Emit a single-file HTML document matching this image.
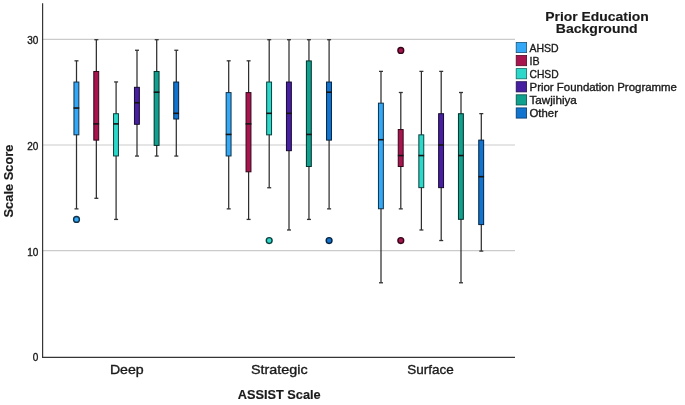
<!DOCTYPE html>
<html><head><meta charset="utf-8"><style>
html,body{margin:0;padding:0;background:#fff;}
body{width:685px;height:405px;overflow:hidden;}
svg{display:block;font-family:"Liberation Sans",sans-serif;will-change:transform;}
</style></head><body>
<svg width="685" height="405" viewBox="0 0 685 405">
<rect width="685" height="405" fill="#fff"/>
<line x1="42.6" y1="250.60" x2="515.0" y2="250.60" stroke="#cbcbcb" stroke-width="1.1"/>
<line x1="42.6" y1="145.00" x2="515.0" y2="145.00" stroke="#cbcbcb" stroke-width="1.1"/>
<line x1="42.6" y1="39.40" x2="515.0" y2="39.40" stroke="#cbcbcb" stroke-width="1.1"/>
<line x1="76.50" y1="60.82" x2="76.50" y2="208.86" stroke="#2e2e2e" stroke-width="1.25"/>
<line x1="74.50" y1="60.82" x2="78.50" y2="60.82" stroke="#333" stroke-width="1.3"/>
<line x1="74.50" y1="208.86" x2="78.50" y2="208.86" stroke="#333" stroke-width="1.3"/>
<rect x="73.95" y="82.04" width="4.90" height="52.80" fill="#33A8F6" stroke="#0f3249" stroke-width="1"/>
<line x1="73.55" y1="108.04" x2="79.25" y2="108.04" stroke="#151515" stroke-width="1.6"/>
<circle cx="76.50" cy="219.42" r="2.9" fill="#33A8F6" stroke="#0f3249" stroke-width="1.4"/>
<line x1="96.35" y1="39.70" x2="96.35" y2="198.30" stroke="#2e2e2e" stroke-width="1.25"/>
<line x1="94.35" y1="39.70" x2="98.35" y2="39.70" stroke="#333" stroke-width="1.3"/>
<line x1="94.35" y1="198.30" x2="98.35" y2="198.30" stroke="#333" stroke-width="1.3"/>
<rect x="93.80" y="71.48" width="4.90" height="68.64" fill="#A8144E" stroke="#320617" stroke-width="1"/>
<line x1="93.40" y1="123.88" x2="99.10" y2="123.88" stroke="#151515" stroke-width="1.6"/>
<line x1="116.10" y1="81.94" x2="116.10" y2="219.42" stroke="#2e2e2e" stroke-width="1.25"/>
<line x1="114.10" y1="81.94" x2="118.10" y2="81.94" stroke="#333" stroke-width="1.3"/>
<line x1="114.10" y1="219.42" x2="118.10" y2="219.42" stroke="#333" stroke-width="1.3"/>
<rect x="113.55" y="113.72" width="4.90" height="42.24" fill="#2BD8CA" stroke="#0c403c" stroke-width="1"/>
<line x1="113.15" y1="123.88" x2="118.85" y2="123.88" stroke="#151515" stroke-width="1.6"/>
<line x1="137.00" y1="50.26" x2="137.00" y2="156.06" stroke="#2e2e2e" stroke-width="1.25"/>
<line x1="135.00" y1="50.26" x2="139.00" y2="50.26" stroke="#333" stroke-width="1.3"/>
<line x1="135.00" y1="156.06" x2="139.00" y2="156.06" stroke="#333" stroke-width="1.3"/>
<rect x="134.45" y="87.32" width="4.90" height="36.96" fill="#4620A0" stroke="#150930" stroke-width="1"/>
<line x1="134.05" y1="102.76" x2="139.75" y2="102.76" stroke="#151515" stroke-width="1.6"/>
<line x1="156.70" y1="39.70" x2="156.70" y2="156.06" stroke="#2e2e2e" stroke-width="1.25"/>
<line x1="154.70" y1="39.70" x2="158.70" y2="39.70" stroke="#333" stroke-width="1.3"/>
<line x1="154.70" y1="156.06" x2="158.70" y2="156.06" stroke="#333" stroke-width="1.3"/>
<rect x="154.15" y="71.48" width="4.90" height="73.92" fill="#10A08E" stroke="#04302a" stroke-width="1"/>
<line x1="153.75" y1="92.20" x2="159.45" y2="92.20" stroke="#151515" stroke-width="1.6"/>
<line x1="176.30" y1="50.26" x2="176.30" y2="156.06" stroke="#2e2e2e" stroke-width="1.25"/>
<line x1="174.30" y1="50.26" x2="178.30" y2="50.26" stroke="#333" stroke-width="1.3"/>
<line x1="174.30" y1="156.06" x2="178.30" y2="156.06" stroke="#333" stroke-width="1.3"/>
<rect x="173.75" y="82.04" width="4.90" height="36.96" fill="#1174CF" stroke="#05223e" stroke-width="1"/>
<line x1="173.35" y1="113.32" x2="179.05" y2="113.32" stroke="#151515" stroke-width="1.6"/>
<line x1="228.70" y1="60.82" x2="228.70" y2="208.86" stroke="#2e2e2e" stroke-width="1.25"/>
<line x1="226.70" y1="60.82" x2="230.70" y2="60.82" stroke="#333" stroke-width="1.3"/>
<line x1="226.70" y1="208.86" x2="230.70" y2="208.86" stroke="#333" stroke-width="1.3"/>
<rect x="226.15" y="92.60" width="4.90" height="63.36" fill="#33A8F6" stroke="#0f3249" stroke-width="1"/>
<line x1="225.75" y1="134.44" x2="231.45" y2="134.44" stroke="#151515" stroke-width="1.6"/>
<line x1="248.60" y1="60.82" x2="248.60" y2="219.42" stroke="#2e2e2e" stroke-width="1.25"/>
<line x1="246.60" y1="60.82" x2="250.60" y2="60.82" stroke="#333" stroke-width="1.3"/>
<line x1="246.60" y1="219.42" x2="250.60" y2="219.42" stroke="#333" stroke-width="1.3"/>
<rect x="246.05" y="92.60" width="4.90" height="79.20" fill="#A8144E" stroke="#320617" stroke-width="1"/>
<line x1="245.65" y1="123.88" x2="251.35" y2="123.88" stroke="#151515" stroke-width="1.6"/>
<line x1="269.20" y1="39.70" x2="269.20" y2="187.74" stroke="#2e2e2e" stroke-width="1.25"/>
<line x1="267.20" y1="39.70" x2="271.20" y2="39.70" stroke="#333" stroke-width="1.3"/>
<line x1="267.20" y1="187.74" x2="271.20" y2="187.74" stroke="#333" stroke-width="1.3"/>
<rect x="266.65" y="82.04" width="4.90" height="52.80" fill="#2BD8CA" stroke="#0c403c" stroke-width="1"/>
<line x1="266.25" y1="113.32" x2="271.95" y2="113.32" stroke="#151515" stroke-width="1.6"/>
<circle cx="269.20" cy="240.54" r="2.9" fill="#2BD8CA" stroke="#0c403c" stroke-width="1.4"/>
<line x1="289.00" y1="39.70" x2="289.00" y2="229.98" stroke="#2e2e2e" stroke-width="1.25"/>
<line x1="287.00" y1="39.70" x2="291.00" y2="39.70" stroke="#333" stroke-width="1.3"/>
<line x1="287.00" y1="229.98" x2="291.00" y2="229.98" stroke="#333" stroke-width="1.3"/>
<rect x="286.45" y="82.04" width="4.90" height="68.64" fill="#4620A0" stroke="#150930" stroke-width="1"/>
<line x1="286.05" y1="113.32" x2="291.75" y2="113.32" stroke="#151515" stroke-width="1.6"/>
<line x1="308.95" y1="39.70" x2="308.95" y2="219.42" stroke="#2e2e2e" stroke-width="1.25"/>
<line x1="306.95" y1="39.70" x2="310.95" y2="39.70" stroke="#333" stroke-width="1.3"/>
<line x1="306.95" y1="219.42" x2="310.95" y2="219.42" stroke="#333" stroke-width="1.3"/>
<rect x="306.40" y="60.92" width="4.90" height="105.60" fill="#10A08E" stroke="#04302a" stroke-width="1"/>
<line x1="306.00" y1="134.44" x2="311.70" y2="134.44" stroke="#151515" stroke-width="1.6"/>
<line x1="329.10" y1="39.70" x2="329.10" y2="208.86" stroke="#2e2e2e" stroke-width="1.25"/>
<line x1="327.10" y1="39.70" x2="331.10" y2="39.70" stroke="#333" stroke-width="1.3"/>
<line x1="327.10" y1="208.86" x2="331.10" y2="208.86" stroke="#333" stroke-width="1.3"/>
<rect x="326.55" y="82.04" width="4.90" height="58.08" fill="#1174CF" stroke="#05223e" stroke-width="1"/>
<line x1="326.15" y1="92.20" x2="331.85" y2="92.20" stroke="#151515" stroke-width="1.6"/>
<circle cx="329.10" cy="240.54" r="2.9" fill="#1174CF" stroke="#05223e" stroke-width="1.4"/>
<line x1="381.00" y1="71.38" x2="381.00" y2="282.78" stroke="#2e2e2e" stroke-width="1.25"/>
<line x1="379.00" y1="71.38" x2="383.00" y2="71.38" stroke="#333" stroke-width="1.3"/>
<line x1="379.00" y1="282.78" x2="383.00" y2="282.78" stroke="#333" stroke-width="1.3"/>
<rect x="378.45" y="103.16" width="4.90" height="105.60" fill="#33A8F6" stroke="#0f3249" stroke-width="1"/>
<line x1="378.05" y1="139.72" x2="383.75" y2="139.72" stroke="#151515" stroke-width="1.6"/>
<line x1="400.80" y1="92.50" x2="400.80" y2="208.86" stroke="#2e2e2e" stroke-width="1.25"/>
<line x1="398.80" y1="92.50" x2="402.80" y2="92.50" stroke="#333" stroke-width="1.3"/>
<line x1="398.80" y1="208.86" x2="402.80" y2="208.86" stroke="#333" stroke-width="1.3"/>
<rect x="398.25" y="129.56" width="4.90" height="36.96" fill="#A8144E" stroke="#320617" stroke-width="1"/>
<line x1="397.85" y1="155.56" x2="403.55" y2="155.56" stroke="#151515" stroke-width="1.6"/>
<circle cx="400.80" cy="50.46" r="2.9" fill="#A8144E" stroke="#320617" stroke-width="1.4"/>
<circle cx="400.80" cy="240.54" r="2.9" fill="#A8144E" stroke="#320617" stroke-width="1.4"/>
<line x1="421.40" y1="71.38" x2="421.40" y2="229.98" stroke="#2e2e2e" stroke-width="1.25"/>
<line x1="419.40" y1="71.38" x2="423.40" y2="71.38" stroke="#333" stroke-width="1.3"/>
<line x1="419.40" y1="229.98" x2="423.40" y2="229.98" stroke="#333" stroke-width="1.3"/>
<rect x="418.85" y="134.84" width="4.90" height="52.80" fill="#2BD8CA" stroke="#0c403c" stroke-width="1"/>
<line x1="418.45" y1="155.56" x2="424.15" y2="155.56" stroke="#151515" stroke-width="1.6"/>
<line x1="441.20" y1="71.38" x2="441.20" y2="240.54" stroke="#2e2e2e" stroke-width="1.25"/>
<line x1="439.20" y1="71.38" x2="443.20" y2="71.38" stroke="#333" stroke-width="1.3"/>
<line x1="439.20" y1="240.54" x2="443.20" y2="240.54" stroke="#333" stroke-width="1.3"/>
<rect x="438.65" y="113.72" width="4.90" height="73.92" fill="#4620A0" stroke="#150930" stroke-width="1"/>
<line x1="438.25" y1="145.00" x2="443.95" y2="145.00" stroke="#151515" stroke-width="1.6"/>
<line x1="461.00" y1="92.50" x2="461.00" y2="282.78" stroke="#2e2e2e" stroke-width="1.25"/>
<line x1="459.00" y1="92.50" x2="463.00" y2="92.50" stroke="#333" stroke-width="1.3"/>
<line x1="459.00" y1="282.78" x2="463.00" y2="282.78" stroke="#333" stroke-width="1.3"/>
<rect x="458.45" y="113.72" width="4.90" height="105.60" fill="#10A08E" stroke="#04302a" stroke-width="1"/>
<line x1="458.05" y1="155.56" x2="463.75" y2="155.56" stroke="#151515" stroke-width="1.6"/>
<line x1="481.30" y1="113.62" x2="481.30" y2="251.10" stroke="#2e2e2e" stroke-width="1.25"/>
<line x1="479.30" y1="113.62" x2="483.30" y2="113.62" stroke="#333" stroke-width="1.3"/>
<line x1="479.30" y1="251.10" x2="483.30" y2="251.10" stroke="#333" stroke-width="1.3"/>
<rect x="478.75" y="140.12" width="4.90" height="84.48" fill="#1174CF" stroke="#05223e" stroke-width="1"/>
<line x1="478.35" y1="176.68" x2="484.05" y2="176.68" stroke="#151515" stroke-width="1.6"/>
<line x1="42.6" y1="3.3" x2="42.6" y2="357.9" stroke="#363636" stroke-width="1.2"/>
<line x1="42.0" y1="357.3" x2="515.0" y2="357.3" stroke="#363636" stroke-width="1.2"/>
<text x="38.3" y="361.10" text-anchor="end" font-size="10" fill="#1a1a1a" stroke="#1a1a1a" stroke-width="0.35">0</text>
<text x="38.3" y="255.50" text-anchor="end" font-size="10" fill="#1a1a1a" stroke="#1a1a1a" stroke-width="0.35">10</text>
<text x="38.3" y="149.90" text-anchor="end" font-size="10" fill="#1a1a1a" stroke="#1a1a1a" stroke-width="0.35">20</text>
<text x="38.3" y="44.30" text-anchor="end" font-size="10" fill="#1a1a1a" stroke="#1a1a1a" stroke-width="0.35">30</text>
<text x="126.80" y="374.1" text-anchor="middle" font-size="13" fill="#1a1a1a" stroke="#1a1a1a" stroke-width="0.35" textLength="33.78" lengthAdjust="spacingAndGlyphs">Deep</text>
<text x="279.30" y="374.1" text-anchor="middle" font-size="13" fill="#1a1a1a" stroke="#1a1a1a" stroke-width="0.35" textLength="56.67" lengthAdjust="spacingAndGlyphs">Strategic</text>
<text x="430.50" y="374.1" text-anchor="middle" font-size="13" fill="#1a1a1a" stroke="#1a1a1a" stroke-width="0.35" textLength="46.52" lengthAdjust="spacingAndGlyphs">Surface</text>
<text x="279.2" y="399.1" text-anchor="middle" font-size="13" font-weight="bold" fill="#1a1a1a" stroke="#1a1a1a" stroke-width="0.15" textLength="83.04" lengthAdjust="spacingAndGlyphs">ASSIST Scale</text>
<g transform="translate(13.1,181) rotate(-90)"><text x="0" y="0" text-anchor="middle" font-size="13" font-weight="bold" fill="#1a1a1a" stroke="#1a1a1a" stroke-width="0.15" textLength="73.04" lengthAdjust="spacingAndGlyphs">Scale Score</text></g>
<text x="597" y="20.8" text-anchor="middle" font-size="13" font-weight="bold" fill="#1a1a1a" stroke="#1a1a1a" stroke-width="0.15" textLength="103.56" lengthAdjust="spacingAndGlyphs">Prior Education</text>
<text x="596.7" y="33.3" text-anchor="middle" font-size="13" font-weight="bold" fill="#1a1a1a" stroke="#1a1a1a" stroke-width="0.15" textLength="81.90" lengthAdjust="spacingAndGlyphs">Background</text>
<rect x="516.2" y="42.40" width="10.4" height="10.2" fill="#33A8F6" stroke="#19547b" stroke-width="0.8"/>
<text x="529.5" y="51.80" text-anchor="start" font-size="11" fill="#1a1a1a" stroke="#1a1a1a" stroke-width="0.35" textLength="29.15" lengthAdjust="spacingAndGlyphs">AHSD</text>
<rect x="516.2" y="55.50" width="10.4" height="10.2" fill="#A8144E" stroke="#540a27" stroke-width="0.8"/>
<text x="529.5" y="64.90" text-anchor="start" font-size="11" fill="#1a1a1a" stroke="#1a1a1a" stroke-width="0.35" textLength="10.06" lengthAdjust="spacingAndGlyphs">IB</text>
<rect x="516.2" y="68.60" width="10.4" height="10.2" fill="#2BD8CA" stroke="#156c65" stroke-width="0.8"/>
<text x="529.5" y="78.00" text-anchor="start" font-size="11" fill="#1a1a1a" stroke="#1a1a1a" stroke-width="0.35" textLength="29.13" lengthAdjust="spacingAndGlyphs">CHSD</text>
<rect x="516.2" y="81.70" width="10.4" height="10.2" fill="#4620A0" stroke="#231050" stroke-width="0.8"/>
<text x="529.5" y="91.10" text-anchor="start" font-size="11" fill="#1a1a1a" stroke="#1a1a1a" stroke-width="0.35" textLength="147.48" lengthAdjust="spacingAndGlyphs">Prior Foundation Programme</text>
<rect x="516.2" y="94.80" width="10.4" height="10.2" fill="#10A08E" stroke="#085047" stroke-width="0.8"/>
<text x="529.5" y="104.20" text-anchor="start" font-size="11" fill="#1a1a1a" stroke="#1a1a1a" stroke-width="0.35" textLength="47.34" lengthAdjust="spacingAndGlyphs">Tawjihiya</text>
<rect x="516.2" y="107.90" width="10.4" height="10.2" fill="#1174CF" stroke="#083a67" stroke-width="0.8"/>
<text x="529.5" y="117.30" text-anchor="start" font-size="11" fill="#1a1a1a" stroke="#1a1a1a" stroke-width="0.35" textLength="28.45" lengthAdjust="spacingAndGlyphs">Other</text>
</svg>
</body></html>
